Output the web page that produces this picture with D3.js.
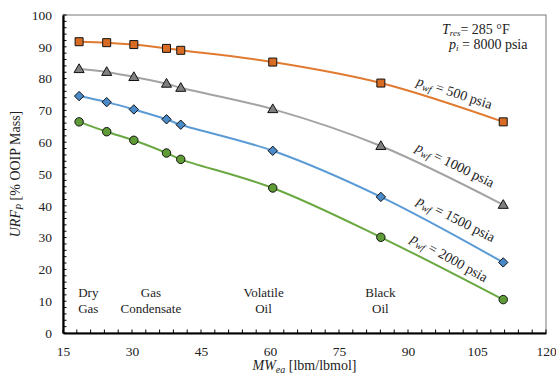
<!DOCTYPE html>
<html>
<head>
<meta charset="utf-8">
<script src="https://cdn.jsdelivr.net/npm/d3@7"></script>
<style>
  body { margin: 0; background: #fff; }
  text { font-family: "Liberation Serif", "DejaVu Serif", serif; fill: #222; }
</style>
</head>
<body>
<svg id="chart" width="556" height="376"></svg>
<script>
// molecular weight of each fluid (x), recovery factor per pwf curve (y)
const mw = [18.5, 24.5, 30.4, 37.5, 40.6, 60.6, 84.1, 110.7];
const urf500  = [91.6, 91.3, 90.7, 89.5, 88.9, 85.2, 78.6, 66.4];
const urf1000 = [83.0, 82.1, 80.5, 78.4, 77.1, 70.4, 58.8, 40.3];
const urf1500 = [74.5, 72.6, 70.3, 67.2, 65.5, 57.3, 42.8, 22.2];
const urf2000 = [66.4, 63.3, 60.6, 56.6, 54.6, 45.6, 30.1, 10.5];
const xTicks = [15, 30, 45, 60, 75, 90, 105, 120];
const yTicks = [0, 10, 20, 30, 40, 50, 60, 70, 80, 90, 100];
const fluidLabels = [
  {x: 20.5, lines: ["Dry", "Gas"]},
  {x: 34.1, lines: ["Gas", "Condensate"]},
  {x: 58.6, lines: ["Volatile", "Oil"]},
  {x: 84.0, lines: ["Black", "Oil"]}
];

const series = [
  {name: "500",  values: urf500,  line: "#e07a30", fill: "#d86c24", shape: "square"},
  {name: "1000", values: urf1000, line: "#a3a3a3", fill: "#7f7f7f", shape: "triangle"},
  {name: "1500", values: urf1500, line: "#5b9bd5", fill: "#4a8ac8", shape: "diamond"},
  {name: "2000", values: urf2000, line: "#6aa842", fill: "#5f9c38", shape: "circle"}
];

// where the rotated pwf labels sit (in data units) and their angle
const curveLabels = [
  {name: "500",  x: 99.8, y: 74.2, angle: 18},
  {name: "1000", x: 99.8, y: 51.6, angle: 26},
  {name: "1500", x: 100.0, y: 34.6, angle: 27},
  {name: "2000", x: 98.5, y: 22.4, angle: 29}
];

const svg = d3.select("#chart");
const margin = {top: 15, right: 10, bottom: 43, left: 63};
const W = 556, H = 376;
const iw = W - margin.left - margin.right;
const ih = H - margin.top - margin.bottom;

const x = d3.scaleLinear().domain([15, 120]).range([0, iw]);
const y = d3.scaleLinear().domain([0, 100]).range([ih, 0]);

const g = svg.append("g").attr("transform", `translate(${margin.left},${margin.top})`);

// frame: grey top/right
g.append("rect").attr("width", iw).attr("height", ih)
  .attr("fill", "none").attr("stroke", "#777").attr("stroke-width", 1);

// minor ticks (inside)
const xMinor = d3.range(15, 120.01, 3);
const yMinor = d3.range(0, 100.01, 2);
g.append("g").selectAll("line").data(xMinor).enter().append("line")
  .attr("x1", d => x(d)).attr("x2", d => x(d))
  .attr("y1", ih).attr("y2", ih - 3.5)
  .attr("stroke", "#000").attr("stroke-width", 1);
g.append("g").selectAll("line").data(yMinor).enter().append("line")
  .attr("x1", 0).attr("x2", 3.5)
  .attr("y1", d => y(d)).attr("y2", d => y(d))
  .attr("stroke", "#000").attr("stroke-width", 1);

// axes
const xAxis = g.append("g").attr("transform", `translate(0,${ih})`)
  .call(d3.axisBottom(x).tickValues(xTicks).tickSize(0).tickPadding(13));
const yAxis = g.append("g")
  .call(d3.axisLeft(y).tickValues(yTicks).tickSize(0).tickPadding(11));
[xAxis, yAxis].forEach(a => {
  a.attr("font-family", null).attr("font-size", null);
  a.select(".domain").attr("stroke", "#000").attr("stroke-width", 2.2);
  a.selectAll("text").style("font-family", '"Liberation Serif", serif')
    .style("font-size", "13.5px").attr("fill", "#222");
});

// fluid type labels
fluidLabels.forEach(f => {
  const t = g.append("text").attr("text-anchor", "middle")
    .attr("x", x(f.x)).attr("y", y(11.2)).style("font-size", "13px");
  f.lines.forEach((l, i) => {
    t.append("tspan").attr("x", x(f.x)).attr("dy", i === 0 ? 0 : 16).text(l);
  });
});

// curves
const line = d3.line()
  .x((d, i) => x(mw[i])).y(d => y(d))
  .curve(d3.curveCatmullRom.alpha(0.5));

series.forEach(s => {
  g.append("path").datum(s.values)
    .attr("d", line).attr("fill", "none")
    .attr("stroke", s.line).attr("stroke-width", 2);
});

const symbolType = {
  square: d3.symbolSquare, triangle: d3.symbolTriangle,
  diamond: d3.symbolDiamond2, circle: d3.symbolCircle
};
const symbolSize = {square: 64, triangle: 44, diamond: 56, circle: 56};

series.forEach(s => {
  g.append("g").selectAll("path").data(s.values).enter().append("path")
    .attr("d", d3.symbol().type(symbolType[s.shape]).size(symbolSize[s.shape]))
    .attr("transform", (d, i) => `translate(${x(mw[i])},${y(d) + (s.shape === "triangle" ? 0.6 : 0)})`)
    .attr("fill", s.fill).attr("stroke", "#111").attr("stroke-width", 1);
});

// rotated pwf labels
curveLabels.forEach(c => {
  const t = g.append("text")
    .attr("transform", `translate(${x(c.x)},${y(c.y)}) rotate(${c.angle})`)
    .attr("text-anchor", "middle").style("font-size", "14px");
  t.append("tspan").style("font-style", "italic").text("p");
  t.append("tspan").style("font-style", "italic").style("font-size", "10px")
    .attr("dy", 3).text("wf");
  t.append("tspan").attr("dy", -3).text(" = " + c.name + " psia");
});

// conditions annotation
const ann = g.append("text").attr("x", 379).attr("y", 19).style("font-size", "14px");
ann.append("tspan").style("font-style", "italic").text("T");
ann.append("tspan").style("font-style", "italic").style("font-size", "9px").attr("dy", 1.5).text("res");
ann.append("tspan").attr("dy", -1.5).text("= 285 \u00B0F");
const ann2 = g.append("text").attr("x", 386).attr("y", 34).style("font-size", "14px");
ann2.append("tspan").style("font-style", "italic").text("p");
ann2.append("tspan").style("font-style", "italic").style("font-size", "9px").attr("dy", 1.5).text("i");
ann2.append("tspan").attr("dy", -1.5).text(" = 8000 psia");

// axis titles
const xt = svg.append("text").attr("text-anchor", "middle")
  .attr("x", margin.left + iw / 2).attr("y", 370).style("font-size", "14px");
xt.append("tspan").style("font-style", "italic").text("MW");
xt.append("tspan").style("font-style", "italic").style("font-size", "10px").attr("dy", 3).text("ea");
xt.append("tspan").attr("dy", -3).text(" [lbm/lbmol]");

const yt = svg.append("text").attr("text-anchor", "middle")
  .attr("transform", `translate(20,${margin.top + ih / 2}) rotate(-90)`)
  .style("font-size", "14px");
yt.append("tspan").style("font-style", "italic").text("URF");
yt.append("tspan").style("font-style", "italic").style("font-size", "10px").attr("dy", 3).text("P");
yt.append("tspan").attr("dy", -3).text(" [% OOIP Mass]");
</script>
</body>
</html>
